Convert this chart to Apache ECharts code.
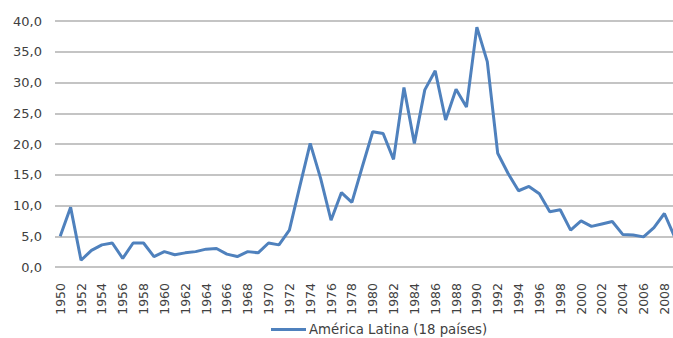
<!DOCTYPE html>
<html>
<head>
<meta charset="utf-8">
<script src="https://cdn.jsdelivr.net/npm/echarts@6/dist/echarts.min.js"></script>
<style>
  html, body { margin: 0; padding: 0; background: #fff; }
  #chart { width: 673px; height: 338px; }
</style>
</head>
<body>
<div id="chart"></div>
<script>
// Annual series, 1950-2009
const years = [
  '1950','1951','1952','1953','1954','1955','1956','1957','1958','1959',
  '1960','1961','1962','1963','1964','1965','1966','1967','1968','1969',
  '1970','1971','1972','1973','1974','1975','1976','1977','1978','1979',
  '1980','1981','1982','1983','1984','1985','1986','1987','1988','1989',
  '1990','1991','1992','1993','1994','1995','1996','1997','1998','1999',
  '2000','2001','2002','2003','2004','2005','2006','2007','2008','2009'
];

const americaLatina = [
  5.0, 9.7, 1.1, 2.7, 3.6, 3.9, 1.4, 3.9, 3.9, 1.7,
  2.5, 2.0, 2.3, 2.5, 2.9, 3.0, 2.1, 1.7, 2.5, 2.3,
  3.9, 3.6, 6.0, 13.1, 20.1, 14.4, 7.6, 12.1, 10.5, 16.3,
  22.0, 21.7, 17.5, 29.2, 20.1, 28.8, 31.9, 23.9, 28.9, 26.0,
  39.0, 33.4, 18.5, 15.2, 12.4, 13.1, 11.9, 9.0, 9.3, 6.0,
  7.5, 6.6, 7.0, 7.4, 5.3, 5.2, 4.9, 6.4, 8.7, 4.8
];

const seriesName = 'América Latina (18 países)';
const yTicks = { min: 0, max: 40, interval: 5 };

// SVG renderer keeps the vertical year labels rotated
const chart = echarts.init(document.getElementById('chart'), null, { renderer: 'svg' });

const option = {
  animation: false,
  textStyle: { fontFamily: 'DejaVu Sans' },
  grid: { left: 55, right: -7, top: 21, bottom: 71, containLabel: false, outerBoundsMode: 'none' },
  legend: {
    data: [seriesName],
    left: 266,
    top: 318,
    icon: 'rect',
    itemWidth: 35,
    itemHeight: 3,
    itemGap: 10,
    textStyle: { color: '#404040', fontSize: 13.3, fontFamily: 'DejaVu Sans', padding: [0, 0, 0, -2] }
  },
  xAxis: [{
    type: 'category',
    data: years,
    boundaryGap: true,
    axisLine: { show: false },
    axisTick: { show: false },
    axisLabel: {
      show: true,
      interval: 1,
      rotate: 90,
      margin: 16,
      color: '#404040',
      fontSize: 12.5,
      fontFamily: 'DejaVu Sans'
    }
  }],
  yAxis: [{
    type: 'value',
    min: yTicks.min,
    max: yTicks.max,
    interval: yTicks.interval,
    axisLine: { show: false },
    axisTick: { show: false },
    splitLine: { lineStyle: { color: '#c4c4c4', width: 2 } },
    axisLabel: {
      margin: 13,
      color: '#404040',
      fontSize: 13,
      fontFamily: 'DejaVu Sans',
      formatter: v => v.toFixed(1).replace('.', ',')
    }
  }],
  series: [{
    name: seriesName,
    type: 'line',
    data: americaLatina,
    symbol: 'none',
    lineStyle: { color: '#4f81bd', width: 3 },
    itemStyle: { color: '#4f81bd' }
  }]
};
chart.setOption(option);
</script>
</body>
</html>
